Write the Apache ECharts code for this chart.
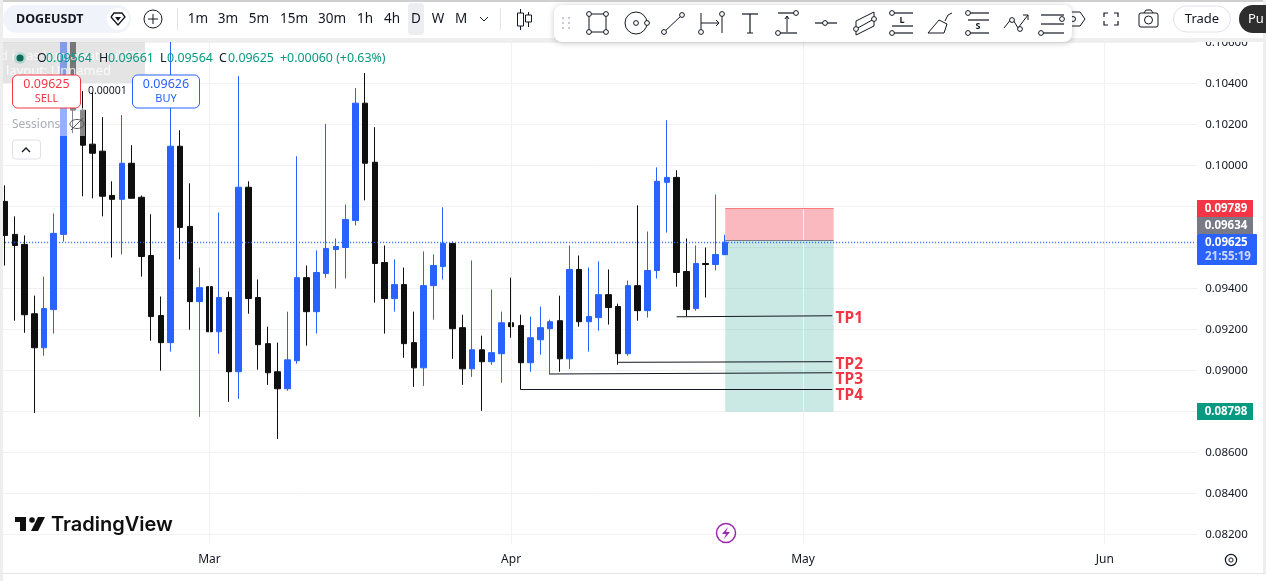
<!DOCTYPE html>
<html><head><meta charset="utf-8">
<style>html,body{margin:0;padding:0;background:#fff}#c{width:1266px;height:581px}</style>
<script src="https://cdn.jsdelivr.net/npm/echarts@6/dist/echarts.min.js"></script>
</head><body><div id="c"></div>
<script>
// ---- values ----
const firstDay = [2023, 1, 8];
const barCount = 123;
const monthTicks = {21:'Mar', 52:'Apr', 82:'May', 113:'Jun'};
const priceOpen = [.09824,.09663,.09614,.09276,.09110,.09296,.09663,.10660,.10269,.10103,.10069,.09853,.09834,.10010,.09844,.09560,.09267,.09135,.10093,.09702,.09335,.09408,.09188,.09355,.08993,.09893,.09355,.09130,.08993,.08910,.09047,.09452,.09286,.09472,.09589,.09599,.09731,.10303,.10015,.09526,.09350,.09418,.09135,.09012,.09413,.09506,.09619,.09208,.09007,.09100,.09042,.09081,.09232,.09218,.09037,.09149,.09203,.09242,.09056,.09492,.09237,.09257,.09369,.09311,.09081,.09413,.09291,.09487,.09917,.09941,.09482,.09301,.09521,.09516,.09564];
const priceClose = [.09658,.09609,.09271,.09110,.09301,.09668,.10660,.10269,.10098,.10059,.09849,.09834,.10010,.09839,.09555,.09262,.09135,.10093,.09697,.09335,.09403,.09188,.09355,.08993,.09893,.09350,.09125,.08988,.08910,.09051,.09452,.09286,.09477,.09594,.09604,.09736,.10303,.10010,.09521,.09350,.09418,.09130,.09012,.09413,.09511,.09619,.09203,.09007,.09100,.09042,.09086,.09232,.09213,.09037,.09159,.09208,.09237,.09056,.09492,.09237,.09262,.09369,.09306,.09081,.09413,.09291,.09487,.09922,.09941,.09477,.09296,.09521,.09516,.09565,.09625];
const priceLow = [.09511,.09242,.09183,.08792,.09071,.09179,.09628,.10157,.09849,.09839,.09751,.09550,.09565,.09839,.09457,.09144,.08998,.09091,.09541,.09198,.08773,.09056,.09081,.08846,.08861,.09276,.09003,.08929,.08665,.08900,.09032,.09120,.09179,.09452,.09399,.09448,.09707,.09829,.09330,.09179,.09286,.09061,.08919,.08924,.09247,.09443,.09056,.08929,.08968,.08802,.09027,.08939,.09159,.08905,.08993,.09076,.08978,.08993,.09007,.09213,.09091,.09193,.09223,.09027,.09071,.09242,.09257,.09448,.09672,.09408,.09262,.09291,.09355,.09487,.09564];
const priceHigh = [.09902,.09751,.09658,.09364,.09457,.09765,.10750,.10750,.10362,.10357,.10235,.09922,.10245,.10098,.09853,.09761,.09360,.10700,.10171,.09912,.09501,.09790,.09770,.09384,.10435,.09922,.09443,.09213,.09135,.09286,.10044,.09511,.09585,.10201,.09643,.09809,.10377,.10450,.10186,.09609,.09541,.09501,.09286,.09580,.09565,.09795,.09628,.09271,.09536,.09169,.09394,.09286,.09452,.09271,.09262,.09311,.09247,.09364,.09609,.09560,.09501,.09531,.09492,.09325,.09438,.09805,.09677,.09990,.10220,.09976,.09643,.09609,.09599,.09858,.09661];
const lastPrice = 0.09625;
const stopPrice = 0.09789, entryPrice = 0.09634, targetPrice = 0.08798;
const boxFrom = 74, boxTo = 85.14;
const tpNames = ['TP1','TP2','TP3','TP4'];
const tpFrom = [69,63,56,53];
const tpTo = [85,85,85,85];
const tpStartPrice = [.09261,.09039,.08982,.08907];
const tpEndPrice = [.09266,.09042,.08988,.08907];
const tpLabelPrice = [.09250,.09026,.08957,.08879];
const yMin = 0.080, yMax = 0.108, yStep = 0.002;

const categories = [];
for (let i = 0; i < barCount; i++) {
  const d = new Date(Date.UTC(firstDay[0], firstDay[1], firstDay[2] + i));
  categories.push(d.toISOString().slice(0,10));
}
const ohlc = priceOpen.map((o,i)=>[o, priceClose[i], priceLow[i], priceHigh[i]]);

const FONT = '"Noto Sans","Open Sans",sans-serif';
const INK = '#131722', UP = '#2962ff', DOWN = '#0f0f0f', RED = '#f23645', GREEN = '#089981';

// ---- screen furniture (toolbars, tags) ----
const G = [];
const Z = 100;
const rect=(x,y,w,h,fill,r,stroke,extra)=>G.push(Object.assign({type:'rect',z:Z,silent:true,shape:{x,y,width:w,height:h,r:r||0},style:{fill:fill||'none',stroke:stroke||null,lineWidth:1}},extra||{}));
const text=(x,y,s,font,fill,align,extra)=>G.push(Object.assign({type:'text',z:Z,silent:true,x,y,style:{text:s,font:font,fill:fill||INK,textAlign:align||'left',textVerticalAlign:'middle'}},extra||{}));
const line=(x1,y1,x2,y2,c,w)=>G.push({type:'line',z:Z,silent:true,shape:{x1,y1,x2,y2},style:{stroke:c||INK,lineWidth:w||1}});
const poly=(pts,c,w)=>G.push({type:'polyline',z:Z,silent:true,shape:{points:pts},style:{stroke:c||INK,lineWidth:w||1,fill:'none'}});
const fillPoly=(pts,c)=>G.push({type:'polygon',z:Z,silent:true,shape:{points:pts},style:{fill:c}});
const circ=(x,y,r,c,fill,w)=>G.push({type:'circle',z:Z,silent:true,shape:{cx:x,cy:y,r},style:{stroke:c||INK,fill:fill||'#fff',lineWidth:w||1}});
const knob=(x,y)=>circ(x,y,2.4,INK,'#fff',1);

// legend overlays sit over the candles
rect(3,42,142,41,'rgba(205,205,205,0.55)');
text(0,56,'d in as kumawatanil438','13px '+FONT,'rgba(255,255,255,0.75)');
text(6,71,'layout: Unnamed','13px '+FONT,'rgba(255,255,255,0.8)');
rect(3,108,82,28,'rgba(255,255,255,0.5)');
circ(20,58,6,null,'rgba(8,153,129,0.2)',0);
G[G.length-1].style.stroke=null;
circ(20,58,3.6,null,'#0b6b5b',0);
G[G.length-1].style.stroke=null;
const LEG='12.4px '+FONT;
text(37,58.5,'O',LEG,INK);
text(46,58.5,'0.09564',LEG,GREEN);
text(99,58.5,'H',LEG,INK);
text(108,58.5,'0.09661',LEG,GREEN);
text(160,58.5,'L',LEG,INK);
text(167,58.5,'0.09564',LEG,GREEN);
text(219,58.5,'C',LEG,INK);
text(228,58.5,'0.09625',LEG,GREEN);
text(280,58.5,'+0.00060 (+0.63%)',LEG,GREEN);
rect(12.5,75,68,33,'#fff',5,RED);
text(46.5,84.5,'0.09625','12.5px '+FONT,RED,'center');
text(46.5,98.5,'SELL','11px '+FONT,RED,'center');
rect(132.5,75,67,33,'#fff',5,UP);
text(166,84.5,'0.09626','12.5px '+FONT,UP,'center');
text(166,98.5,'BUY','11px '+FONT,UP,'center');
text(88,91,'0.00001','10.5px '+FONT,INK);
text(12,125,'Sessions','12px '+FONT,'#a9adb6');
G.push({type:'ellipse',z:Z,silent:true,shape:{cx:77,cy:124,rx:7,ry:4.5},style:{stroke:'#555',fill:'none',lineWidth:1}});
line(71,130,83,118,'#555',1);
rect(12.5,140,28,19,'#fff',3,'#dfe1e6');
poly([[22,152],[26,148],[30,152]],INK,1.3);

// page edges
rect(0,0,1266,38,'#fff');
rect(0,0,1266,2,'#cfcfcf');
rect(0,38,1266,4,'#eeeeee');
rect(0,0,3,581,'#eeeeee');
rect(1263,0,3,574,'#eeeeee');
line(0,573.5,1266,573.5,'#e6e6e6',1);

// top bar
rect(3,5,128,28,'#f0f3fa',14);
text(16,19,'DOGEUSDT','bold 12.5px '+FONT,INK);
circ(118,19,11,null,'#fff',0); G[G.length-1].style.stroke=null;
poly([[111,17],[114,13],[122,13],[125,17],[118,25],[111,17]],INK,1.3);
fillPoly([[115,17],[121,17],[118,21]],INK);
circ(153,19,9,INK,'#fff',1);
line(148,19,158,19,INK,1); line(153,14,153,24,INK,1);
line(177.5,8,177.5,30,'#e0e3eb',1);
[['1m',198],['3m',228],['5m',259],['15m',294],['30m',332],['1h',365],['4h',392]].forEach(a=>text(a[1],19.5,a[0],'13.5px '+FONT,INK,'center'));
rect(408,3,16,32,'#eceef2',4);
text(416,19.5,'D','13.5px '+FONT,INK,'center');
text(438,19.5,'W','13.5px '+FONT,INK,'center');
text(461,19.5,'M','13.5px '+FONT,INK,'center');
poly([[480,17],[484,21],[488,17]],INK,1);
line(500.5,8,500.5,30,'#e0e3eb',1);
line(520.5,9,520.5,30,INK,1); rect(517.5,13,6,13,'#fff',0,INK);
line(528.5,12,528.5,27,INK,1); rect(525.5,15,6,7,'#fff',0,INK);
// right of the top bar
poly([[1069,12],[1080,12],[1085,19],[1080,26],[1069,26]],INK,1);
circ(1073,19,2.5,INK,'#fff',1);
[[1104,17,1104,13,1108,13],[1114,13,1118,13,1118,17],[1104,21,1104,25,1108,25],[1114,25,1118,25,1118,21]].forEach(a=>poly([[a[0],a[1]],[a[2],a[3]],[a[4],a[5]]],INK,1.2));
rect(1139,13,19,14,'#fff',2,INK);
poly([[1144,13],[1146,10],[1151,10],[1153,13]],INK,1);
circ(1148.5,20,4,INK,'#fff',1);
rect(1173.5,6,57,26,'#fff',13,'#e0e3eb');
text(1202,19.5,'Trade','13px '+FONT,INK,'center');
rect(1239,5,40,28,'#2e2e2e',14);
text(1248,19.5,'Pu','13px '+FONT,'#fff');

// floating drawing bar
G.push({type:'rect',z:Z,silent:true,shape:{x:554,y:5,width:518,height:37,r:8},style:{fill:'#fff',shadowBlur:6,shadowColor:'rgba(0,0,0,0.22)',shadowOffsetY:1}});
[[563,18],[569,18],[563,23],[569,23],[563,28],[569,28]].forEach(p=>rect(p[0]-1,p[1]-1,2,2,'#c8cbd2'));
// rectangle
rect(589,14,17,18,'none',0,INK); [[589,14],[606,14],[589,32],[606,32]].forEach(p=>knob(p[0],p[1]));
// circle
circ(636,23,11,INK,'#fff',1); knob(636,23); knob(647,23);
// trend line
line(664,32,682,15,INK,1); knob(664,32); knob(682,15);
// date range
line(701,13,701,32,INK,1); line(722,14,722,33,INK,1); line(701,23,719,23,INK,1);
poly([[716,20],[719,23],[716,26]],INK,1); knob(701,32); knob(722,14);
// text
line(742,14,758,14,INK,1.2); line(750,14,750,33,INK,1.2); line(747,33,753,33,INK,1);
// price range
line(778,13,796,13,INK,1.2); line(780,33,797,33,INK,1.2); line(787,16,787,32,INK,1);
poly([[785,19],[787,16],[789,19]],INK,1); knob(796,13); knob(778,33);
// horizontal
line(815,23,837,23,INK,1.2); knob(825,23);
// channel
poly([[856,21],[874,12],[874,26],[856,35],[856,21]],INK,1); line(856,29,874,19,INK,1); knob(856,29); knob(874,19);
// long
line(892,13,913,13,INK,1.2); line(892,33,913,33,INK,1.2); line(892,26,913,26,INK,1.2);
knob(892,13); knob(892,33);
text(902,20,'L','bold 9px '+FONT,INK,'center');
// brush
poly([[928,33],[944,33],[947,24],[939,20],[928,33]],INK,1); poly([[945,21],[948,15],[952,13]],INK,1); 
// short
line(968,13,989,13,INK,1.2); line(968,33,989,33,INK,1.2); line(968,20,989,20,INK,1.2);
knob(968,13); knob(968,33);
text(978,26.5,'S','bold 9px '+FONT,INK,'center');
// path
poly([[1004,28],[1012,18],[1018,28],[1028,15]],INK,1); poly([[1023,15],[1028,15],[1028,20]],INK,1); knob(1012,20); knob(1020,29);
// fib
[14,23,32].forEach(y=>line(1041,y+1,1064,y+1,INK,1.2)); knob(1062,19); knob(1041,33);

// price tags
const tag=(y,h,c,s)=>{rect(1197,y,56,h,c); text(1226,y+h/2+0.5,s,'bold 11.5px '+FONT,'#fff','center');};
tag(200,17,RED,'0.09789');
tag(217,17,'#787b86','0.09634');
rect(1197,234,60,31,UP,1);
text(1205,242.5,'0.09625','bold 11.5px '+FONT,'#fff');
text(1205,256.5,'21:55:19','bold 11.5px '+FONT,'rgba(255,255,255,0.75)');
tag(403,17,GREEN,'0.08798');

// logo
fillPoly([[15,517],[26,517],[26,531],[20,531],[20,522],[15,522]],'#0f0f0f');
circ(32,520,2.8,null,'#0f0f0f',0); G[G.length-1].style.stroke=null;
fillPoly([[38,517],[45,517],[38,531],[31,531]],'#0f0f0f');
text(51,524.5,'TradingView','600 20px Inter,'+FONT,'#0f0f0f');

// lightning
circ(726,533,9.5,'#9c27b0','#fff',1.5);
fillPoly([[728,527],[722,534],[726,534],[724,539],[730,532],[726,532]],'#9c27b0');
// settings
circ(1231,560,5.6,INK,'#fff',1.2); circ(1231,560,2.1,INK,'#fff',1);

const option = {
  animation:false,
  backgroundColor:'#fff',
  grid:{left:0.2,top:1.3,width:1197,height:574,containLabel:false},
  xAxis:[
    {type:'category',data:categories,boundaryGap:true,
     axisLine:{show:false},axisTick:{show:false},splitLine:{show:false},
     axisLabel:{show:true,inside:true,margin:10,interval:(i)=>monthTicks[i]!==undefined,
       formatter:(v,i)=>monthTicks[i]||'',color:INK,fontSize:12,fontFamily:FONT}},
    {type:'value',min:-0.5,max:barCount-0.5,show:false}
  ],
  yAxis:{type:'value',position:'right',min:yMin,max:yMax,interval:yStep,scale:true,
    axisLine:{show:false},axisTick:{show:false},
    splitLine:{show:true,showMinLine:false,showMaxLine:false,lineStyle:{color:'#f0f1f3',width:1}},
    axisLabel:{margin:8,color:INK,fontSize:11.5,fontFamily:FONT,padding:[2,0,0,0],
      formatter:v=>(Math.abs(v-yMin)<1e-6||Math.abs(v-yMax)<1e-6)?'':v.toFixed(5)}},
  series:[
    {name:'month lines',type:'line',xAxisIndex:1,data:[],z:1,silent:true,
     markLine:{silent:true,symbol:'none',animation:false,label:{show:false},
       lineStyle:{color:'#f0f1f3',width:1,type:'solid'},
       data:Object.keys(monthTicks).map(k=>[{coord:[+k,0.08155]},{coord:[+k,0.1062]}])}},
    {name:'DOGEUSDT',type:'candlestick',data:ohlc,xAxisIndex:0,barWidth:6,z:3,
     itemStyle:{color:UP,color0:DOWN,borderColor:UP,borderColor0:DOWN,borderWidth:1}},
    {name:'position',type:'line',xAxisIndex:1,data:[],z:2,silent:true,
     markArea:{silent:true,animation:false,data:[
       [{coord:[boxFrom,stopPrice],itemStyle:{color:'rgba(242,54,69,0.35)'}},{coord:[boxTo,entryPrice]}],
       [{coord:[boxFrom,entryPrice],itemStyle:{color:'rgba(8,153,129,0.21)'}},{coord:[boxTo,targetPrice]}]
     ]},
     markLine:{silent:true,symbol:'none',animation:false,label:{show:false},data:[
       [{coord:[boxFrom,stopPrice],lineStyle:{color:'#f77c80',width:1,type:'solid'}},{coord:[boxTo,stopPrice]}],
       [{coord:[boxFrom,entryPrice],lineStyle:{color:'#787b86',width:1,type:'solid'}},{coord:[boxTo,entryPrice]}]
     ]}},
    {name:'last price',type:'line',xAxisIndex:1,data:[],z:4,silent:true,
     markLine:{silent:true,symbol:'none',animation:false,label:{show:false},
       lineStyle:{color:UP,width:1.4,type:[1,2]},
       data:[[{coord:[-0.3,lastPrice]},{coord:[barCount-0.6,lastPrice]}]]}},
    {name:'targets',type:'line',xAxisIndex:1,data:[],z:5,silent:true,
     markLine:{silent:true,symbol:'none',animation:false,label:{show:false},
       lineStyle:{color:INK,width:1,type:'solid'},
       data:tpNames.map((n,i)=>[{coord:[tpFrom[i],tpStartPrice[i]]},{coord:[tpTo[i],tpEndPrice[i]]}])}},
    {name:'target labels',type:'scatter',xAxisIndex:1,symbolSize:0,z:6,silent:true,
     itemStyle:{opacity:1},
     data:tpNames.map((n,i)=>({value:[boxTo+0.2,tpLabelPrice[i]],name:n})),
     label:{show:true,position:'right',distance:0,formatter:p=>p.name,color:RED,fontWeight:'bold',fontSize:15.5,fontFamily:FONT}}
  ],
  graphic:{elements:G}
};
const chart = echarts.init(document.getElementById('c'),null,{renderer:'canvas'});
chart.setOption(option);
</script></body></html>
